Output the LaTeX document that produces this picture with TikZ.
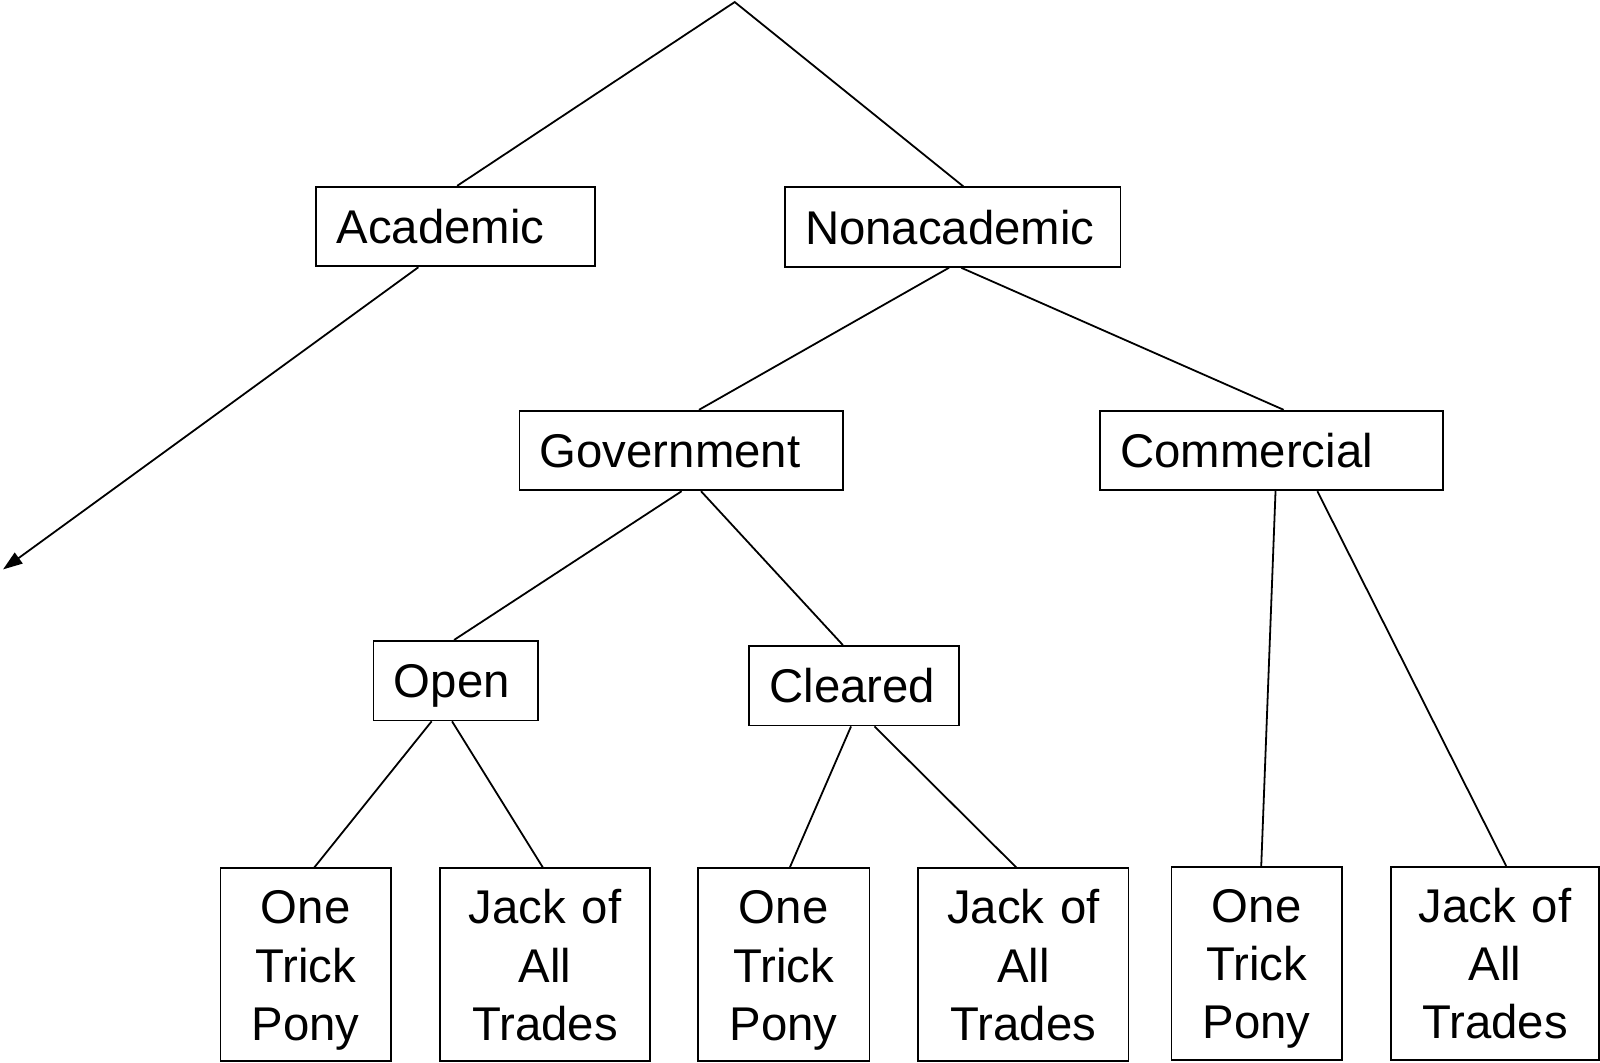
\documentclass[tikz,border=0pt]{standalone}
\usepackage{fontspec}
\setmainfont{Liberation Sans}
\usetikzlibrary{arrows.meta}

\tikzset{
  box/.style={draw, line width=0.5pt, text width=#1, inner xsep=0.2cm, inner ysep=0pt,
    minimum height=0.78cm, align=left, text height=9.6pt, text depth=0pt,
    font=\fontsize{13.2}{16.2}\selectfont},
  leaf/.style={draw, line width=0.5pt, text width=#1, inner xsep=0pt, inner ysep=0pt,
    minimum height=1.89cm, align=center, font=\fontsize{13.2}{16.2}\selectfont,
    execute at begin node={\rule{0pt}{12.5pt}},
    execute at end node={\rule[-2.9pt]{0pt}{2.9pt}}},
  edge/.style={line width=0.5pt}
}

\begin{document}
\begin{tikzpicture}
   \useasboundingbox (0,0) rectangle (15.68,-10.41);
   % top of the tree
   \coordinate (root) at (7.20,-0.02);
   \coordinate (acadend) at (0.03,-5.58);
   \node[box=2.33cm] (acad) at (4.465,-2.22) {Academic};
   \node[box=2.89cm] (nonacad) at (9.335,-2.225) {Nonacademic};
   \node[box=2.77cm] (gov) at (6.675,-4.415) {Government};
   \node[box=2.96cm] (comm) at (12.46,-4.415) {Commercial};
   \node[box=1.21cm] (open) at (4.465,-6.67) {Open};
   \node[box=1.66cm] (clear) at (8.37,-6.72) {Cleared};
   % leaves
   \node[leaf=1.67cm] (openone) at (2.995,-9.455) {One\\Trick\\Pony};
   \node[leaf=2.06cm] (openjack) at (5.34,-9.455) {Jack of\\All\\Trades};
   \node[leaf=1.68cm] (clearone) at (7.68,-9.455) {One\\Trick\\Pony};
   \node[leaf=2.06cm] (clearjack) at (10.03,-9.455) {Jack of\\All\\Trades};
   \node[leaf=1.67cm] (commone) at (12.315,-9.44) {One\\Trick\\Pony};
   \node[leaf=2.04cm] (commjack) at (14.65,-9.44) {Jack of\\All\\Trades};
   % connectors
   \draw[edge] ([xshift=0.015cm]acad.north) -- (root) -- ([xshift=0.105cm]nonacad.north);
   \draw[edge,-{Triangle[length=0.19cm,width=0.13cm]}] ([xshift=-0.365cm]acad.south) -- (acadend);
   \draw[edge] ([xshift=-0.035cm]nonacad.south) -- ([xshift=0.175cm]gov.north);
   \draw[edge] ([xshift=0.085cm]nonacad.south) -- ([xshift=0.12cm]comm.north);
   \draw[edge] ([xshift=0.005cm]gov.south) -- ([xshift=-0.015cm]open.north);
   \draw[edge] ([xshift=0.195cm]gov.south) -- ([xshift=-0.11cm]clear.north);
   \draw[edge] ([xshift=0.04cm]comm.south) -- ([xshift=0.045cm]commone.north);
   \draw[edge] ([xshift=0.45cm]comm.south) -- ([xshift=0.11cm]commjack.north);
   \draw[edge] ([xshift=-0.235cm]open.south) -- ([xshift=0.085cm]openone.north);
   \draw[edge] ([xshift=-0.035cm]open.south) -- ([xshift=-0.02cm]openjack.north);
   \draw[edge] ([xshift=-0.03cm]clear.south) -- ([xshift=0.06cm]clearone.north);
   \draw[edge] ([xshift=0.20cm]clear.south) -- ([xshift=-0.07cm]clearjack.north);
\end{tikzpicture}
\end{document}
